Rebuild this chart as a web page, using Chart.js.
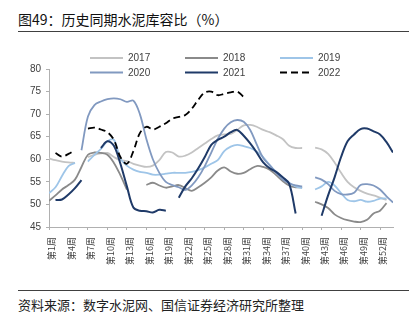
<!DOCTYPE html>
<html lang="zh-CN">
<head>
<meta charset="utf-8">
<title>历史同期水泥库容比</title>
<script src="https://cdn.jsdelivr.net/npm/chart.js@4.4.1/dist/chart.umd.min.js"></script>
<style>
  html, body { margin: 0; padding: 0; background: #fff; }
  body { width: 419px; height: 322px; position: relative; overflow: hidden; font-family: "Noto Sans CJK SC", sans-serif; }
  #title { position: absolute; left: 18px; top: 9px; font-size: 14px; line-height: 20px; color: #111; white-space: nowrap; }
  .rule { position: absolute; left: 18px; width: 391px; height: 1px; background: #404040; }
  #chartBox { position: absolute; left: 0; top: 40px; width: 419px; height: 250px; }
  #source { position: absolute; left: 18px; top: 296px; font-size: 13px; line-height: 18px; color: #222; white-space: nowrap; }
</style>
</head>
<body>
<div id="title">图49：历史同期水泥库容比（%）</div>
<div class="rule" style="top:31px"></div>
<div id="chartBox"><canvas id="grafico"></canvas></div>
<div class="rule" style="top:290px"></div>
<div id="source">资料来源：数字水泥网、国信证券经济研究所整理</div>

<script>
// semanas (eixo x) e rótulos mostrados
const weeks = [
  1, 2, 3, 4, 5, 6, 7, 8, 9, 10, 11, 12, 13, 14, 15, 16, 17, 18,
  19, 20, 21, 22, 23, 24, 25, 26, 27, 28, 29, 30, 31, 32, 33, 34, 35, 36,
  37, 38, 39, 40, 41, 42, 43, 44, 45, 46, 47, 48, 49, 50, 51, 52, 53, 54
];
const tickWeeks = [1, 4, 7, 10, 13, 16, 19, 22, 25, 28, 31, 34, 37, 40, 43, 46, 49, 52];

const yearLabels = ["2017", "2018", "2019", "2020", "2021", "2022"];

// 库容比 (%) por semana, null = sem dado
const s2017 = [
  60.2, 59.8, 59.5, 59.3, 59.2, null, 60.5, 61, 61.3,
  61.4, 60.5, 59.8, 59.6, 59, 58.6, 58.3, 58.6, 59.8,
  61.6, 61.5, 60.6, 60.8, 61.5, 62.5, 63.5, 64.5, 65.3,
  65.5, 65.6, 66.5, 67.5, 67.6, 67.2, 66.5, 66, 65.3,
  64.5, 63, 62.5, 62.5, null, 62.6, 62.2, 61.2, 59.3,
  57, 55, 53.8, 53, 52.4, 52, 51.5, 51, null
];
const s2018 = [
  50.8, 52, 53.3, 54.3, 55.5, 58.3, 61, 61.5, 61.4,
  61, 59.2, 56.5, 53.3, null, null, 54.3, 54.8, 54.2,
  53.7, 54, 54.3, 53.6, 53, 53.8, 54.8, 56, 57.5,
  58.2, 57.3, 56.8, 57, 57.8, 58.5, 58.3, 57.7, 56.5,
  55.2, 54.2, 53.8, 53.8, null, 50.6, 50, 49.2, 47.8,
  47, 46.5, 46.2, 46.1, 46.6, 48, 48.6, 50.3, null
];
const s2019 = [
  52.5, 53.8, 56.3, 58.5, 59.2, null, 59.5, 61, 62.3,
  64, 64.3, 60.2, 58.6, 57.7, 57.2, 57, 56.6, 56.6,
  56.8, 57, 57, 57, 57.2, 57.6, 58.2, 59, 59.8,
  61.8, 62.8, 63.2, 62.9, 62.5, 61.7, 60.5, 58.7, 57.2,
  56, 54.8, 54, 53.6, null, 53.3, 54, 55, 54.2,
  52.5, 51, 50.7, 51, 50.6, 50.8, 51.3, 51.3, null
];
const s2020 = [
  null, null, null, null, null, 62, 69.5, 72, 72.8,
  73.3, 73.5, 73.3, 72.7, 73, 70, 64.5, 60, 57,
  55, 54.3, 53.8, 53.2, 54.2, 56, 58.5, 61.5, 64.5,
  66.8, 68.2, 68.7, 68.3, 66.5, 63.3, 60.3, 58.7, 57,
  55.5, 54.7, 54.2, 54, null, 56, 55.5, 54.5, 53,
  52.3, 52.2, 52.6, 54.3, 54.5, 54.2, 53.3, 51.8, 50.4
];
const s2021 = [
  null, 51, 51.1, 52.2, 53.6, 55.4, null, null, 62.5,
  64, 63, 59, 54, 49.3, 48.6, 48.5, 48.2, 48.8,
  48.6, null, 51.5, 54, 55.8, 58, 60.5, 63.2, 64.3,
  65, 66, 66.5, 65.2, 63.5, 61.5, 59.3, 58, 57.2,
  56, 54.6, 48, null, null, null, 47.5, 52, 56,
  60.5, 64, 65.5, 66.7, 66.8, 66.2, 65.5, 63.8, 61.5
];
const s2022 = [
  null, 61.4, 60.6, 61.2, 62, null, 66.8, 67, 66.6,
  66, 64.3, 60.5, 59, 61.8, 65.8, 67.2, 66.6, 67.2,
  68, 69, 69.4, 69.8, 71.2, 73.2, 74.8, 75, 74.2,
  74.5, 74.8, 75, 73.8, null, null, null, null, null,
  null, null, null, null, null, null, null, null, null,
  null, null, null, null, null, null, null, null, null
];

const seriesList = [s2017, s2018, s2019, s2020, s2021, s2022];

// cor e espessura de cada ano
const lineStyles = [
  { color: "#c3c3c3", width: 1.8 },
  { color: "#8a8a8a", width: 1.8 },
  { color: "#9ec5e8", width: 1.8 },
  { color: "#8199c0", width: 1.8 },
  { color: "#1f3a68", width: 2 },
  { color: "#000000", width: 1.8, dash: [7, 4] },
];

const axisColor = "#b0b0b0";
const textColor = "#404040";
const latinFont = '"Liberation Sans", Arial, sans-serif';
const cjkFont = '"Noto Sans CJK SC", sans-serif';

const datasets = yearLabels.map((label, i) => ({
  label: label,
  data: seriesList[i],
  borderColor: lineStyles[i].color,
  backgroundColor: lineStyles[i].color,
  borderWidth: lineStyles[i].width,
  borderDash: lineStyles[i].dash || [],
  pointRadius: 0,
  pointHoverRadius: 0,
  tension: 0.35,
  // anos mais recentes ficam por cima
  order: yearLabels.length - i,
}));

//Legenda em 3 colunas, sobreposta ao topo do gráfico
const legendaPlugin = {
  id: "legendaColunas",
  afterDraw(chart) {
    const ctx = chart.ctx;
    ctx.save();
    ctx.font = "10px " + latinFont;
    ctx.textBaseline = "middle";
    ctx.textAlign = "left";
    chart.data.datasets.forEach((ds, i) => {
      const x = 90 + (i % 3) * 95;
      const y = 18 + Math.floor(i / 3) * 14.6;
      ctx.strokeStyle = ds.borderColor;
      ctx.lineWidth = 2;
      ctx.setLineDash(ds.borderDash || []);
      ctx.beginPath();
      ctx.moveTo(x, y);
      ctx.lineTo(x + 33, y);
      ctx.stroke();
      ctx.setLineDash([]);
      ctx.fillStyle = textColor;
      ctx.fillText(ds.label, x + 38, y + 0.5);
    });
    ctx.restore();
  },
};

const ctxGrafico = document.getElementById("grafico").getContext("2d");

new Chart(ctxGrafico, {
  type: "line",
  data: { labels: weeks, datasets: datasets },
  plugins: [legendaPlugin],
  options: {
    responsive: true,
    maintainAspectRatio: false,
    animation: false,
    devicePixelRatio: 1,
    layout: { padding: { top: 29, left: 0, right: 26, bottom: 0 } },
    plugins: {
      tooltip: { enabled: false },
      legend: { display: false },
    },
    scales: {
      x: {
        type: "linear",
        min: 1,
        max: 54,
        afterBuildTicks: (scale) => {
          scale.ticks = tickWeeks.map((value) => ({ value }));
        },
        afterFit: (scale) => {
          scale.height = 63;
        },
        grid: { drawOnChartArea: false, drawTicks: true, tickLength: 3, color: axisColor },
        border: { color: axisColor, width: 1 },
        ticks: {
          autoSkip: false,
          minRotation: 90,
          maxRotation: 90,
          padding: 7,
          labelOffset: 3,
          color: textColor,
          font: { family: cjkFont, size: 9 },
          callback: (v) => "第" + v + "周",
        },
      },
      y: {
        min: 45,
        max: 80,
        afterFit: (scale) => {
          scale.width = 49;
        },
        grid: { drawOnChartArea: false, drawTicks: true, tickLength: 3, color: axisColor },
        border: { color: axisColor, width: 1 },
        ticks: {
          stepSize: 5,
          padding: 5,
          color: textColor,
          font: { family: latinFont, size: 10 },
        },
      },
    },
  },
});
</script>
</body>
</html>
